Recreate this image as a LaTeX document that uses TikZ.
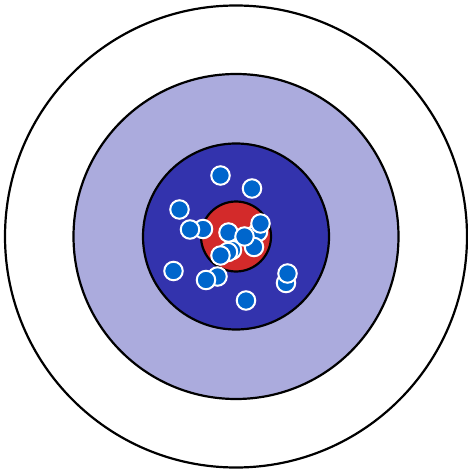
\documentclass[tikz,border=0pt]{standalone}
\usepackage{tikz}

\definecolor{ringlight}{HTML}{ABABDD}
\definecolor{ringdark}{HTML}{3333AD}
\definecolor{bullred}{HTML}{D32A2A}
\definecolor{shotblue}{HTML}{0066CC}

\tikzset{
  ring/.style={draw=black, line width=2.2pt},
  shot/.style={circle, fill=shotblue, draw=white, line width=2pt,
    minimum size=18.5pt, inner sep=0pt},
}

\begin{document}
\begin{tikzpicture}[x=1pt, y=-1pt]
  \useasboundingbox (0,0) rectangle (467,470);
  \coordinate (C) at (236,236.5);
  % target rings
  \draw[ring, fill=white] (C) circle (231);
  \draw[ring, fill=ringlight] (C) circle (162.5);
  \draw[ring, fill=ringdark] (C) circle (93);
  \draw[ring, fill=bullred] (C) circle (35);
  % shots, the hidden ones first
  \node[shot] (s10) at (258,232) {};
  \node[shot] (s19) at (232,250) {};
  \node[shot] (s20) at (228,252) {};
  \node[shot] (s9) at (254,247) {};
  \node[shot] (s4) at (203,229) {};
  \node[shot] (s14) at (217.5,276.5) {};
  \node[shot] (s17) at (286,283) {};
  \node[shot] (s1) at (220.5,175.5) {};
  \node[shot] (s2) at (252,188.5) {};
  \node[shot] (s3) at (179.5,209.5) {};
  \node[shot] (s5) at (190,229.5) {};
  \node[shot] (s6) at (228.5,232.5) {};
  \node[shot] (s7) at (244.5,236.5) {};
  \node[shot] (s8) at (260.5,223.5) {};
  \node[shot] (s12) at (220.5,255.5) {};
  \node[shot] (s13) at (173.5,271) {};
  \node[shot] (s15) at (206,280) {};
  \node[shot] (s18) at (287.5,273.5) {};
  \node[shot] (s16) at (246,300.5) {};
\end{tikzpicture}
\end{document}
